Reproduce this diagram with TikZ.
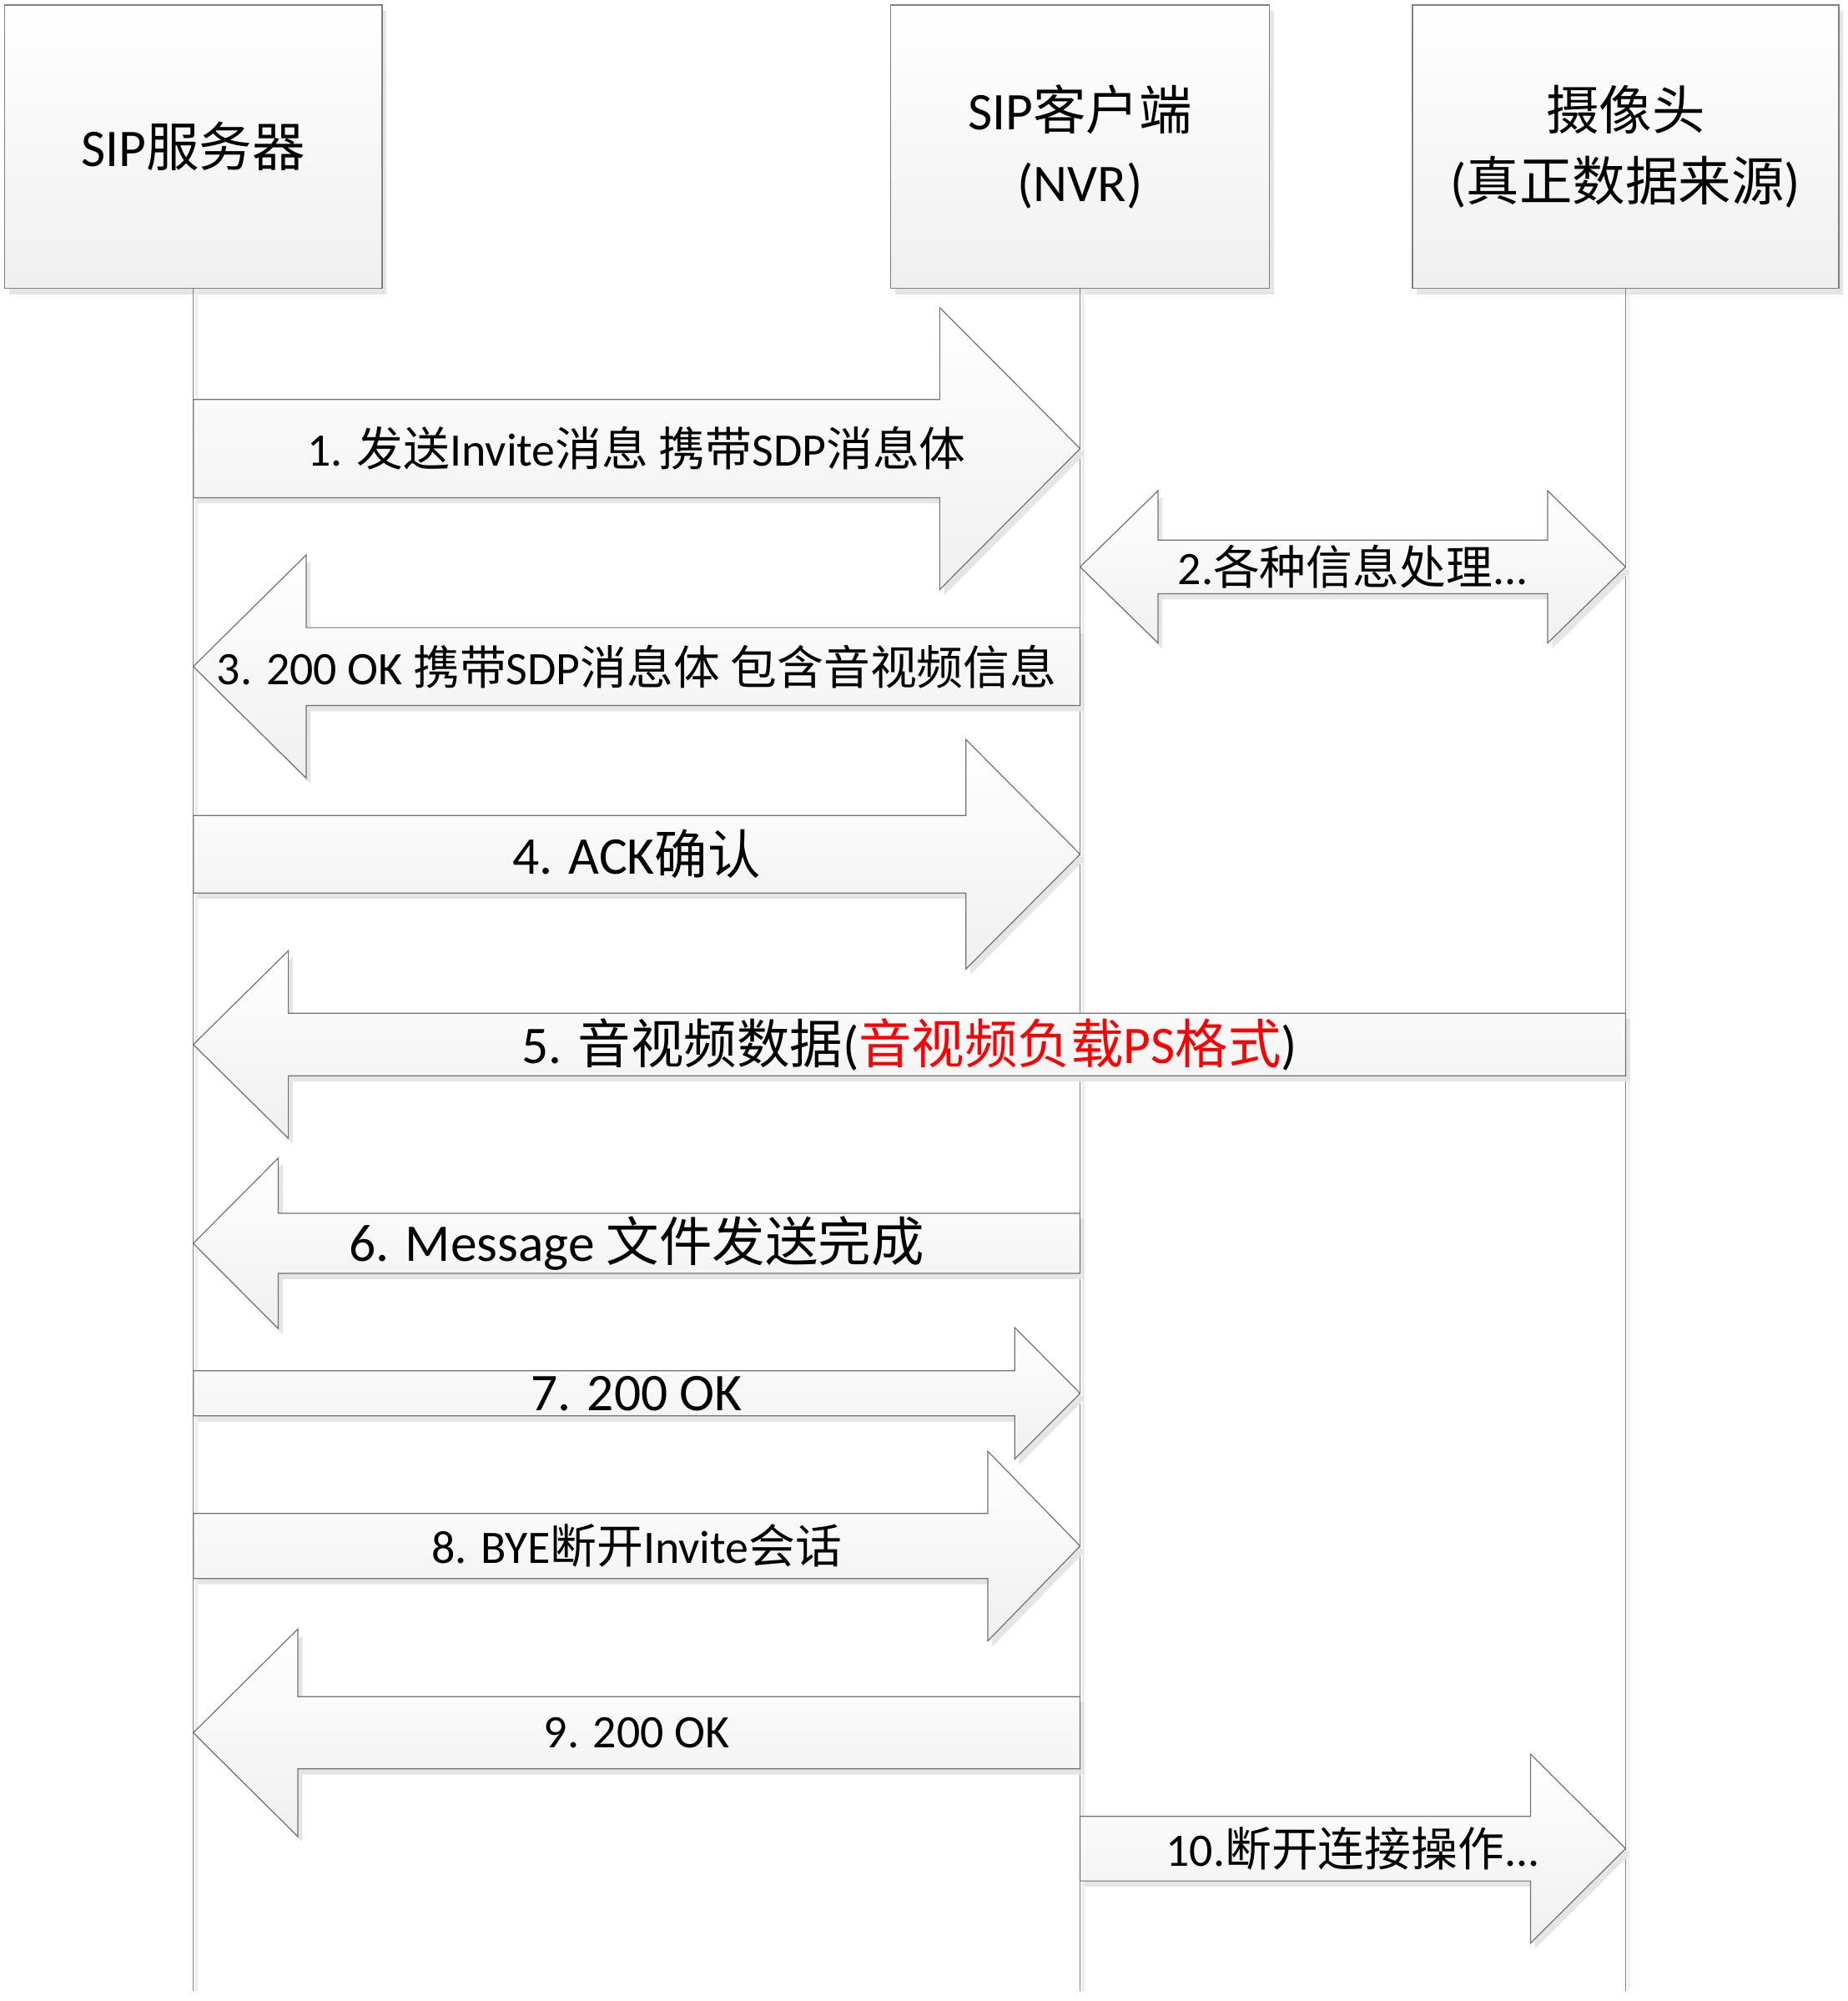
\documentclass[tikz,border=0pt]{standalone}
\usepackage{fontspec}
\setmainfont{Carlito}
\newfontfamily\cjkfont{Noto Sans CJK SC}
\newcommand\cn[1]{{\cjkfont #1}}
\usetikzlibrary{calc,shadows}

\begin{document}
\begin{tikzpicture}[
  x=0.5pt, y=-0.5pt,
  actor/.style={draw=black!50, line width=0.5pt, top color=white, bottom color=black!6,
    drop shadow={shadow xshift=1.75pt, shadow yshift=-2.25pt, fill=black!10, opacity=1},
    minimum height=111pt, inner sep=0pt, align=center,
    font=\fontsize{20.75}{28}\selectfont},
  lifeline/.style={draw=black!50, line width=0.4pt},
  lifeshadow/.style={draw=black!7, line width=0.8pt},
  msg/.style={draw=black!55, line width=0.4pt, top color=white, bottom color=black!6,
    drop shadow={shadow xshift=1.75pt, shadow yshift=-2.25pt, fill=black!10, opacity=1}}
]
\useasboundingbox (0,0) rectangle (1448,1568);

% participants
\node[actor, minimum width=148pt] (srv) at (151.5,115) {SIP\cn{服务器}};
\node[actor, minimum width=148.5pt] (nvr) at (846.5,115) {SIP\cn{客户端}\\(NVR)};
\node[actor, minimum width=167pt] (cam) at (1274,115) {\cn{摄像头}\\(\cn{真正数据来源})};

% lifelines
\coordinate (bottom) at (0,1560);
\foreach \a in {srv,nvr,cam} {
  \draw[lifeshadow] ($(\a.south)+(2.5,0)$) -- ($(\a.south |- bottom)+(2.5,0)$);
  \draw[lifeline] (\a.south) -- (\a.south |- bottom);
}

% 2: both ways between NVR and camera
\def\y{444.2}
\draw[msg] ($(nvr |- 0,\y)+(61,-21)$) -- ($(cam |- 0,\y)+(-61,-21)$)
  -- ($(cam |- 0,\y)+(-61,-59.6)$) -- (cam |- 0,\y) -- ($(cam |- 0,\y)+(-61,59.6)$)
  -- ($(cam |- 0,\y)+(-61,21)$) -- ($(nvr |- 0,\y)+(61,21)$)
  -- ($(nvr |- 0,\y)+(61,59.6)$) -- (nvr |- 0,\y) -- ($(nvr |- 0,\y)+(61,-59.6)$) -- cycle;
\node[font=\fontsize{18.25}{18.25}\selectfont] (m2) at ($(nvr |- 0,\y)!0.5!(cam |- 0,\y)$)
  {2.\cn{各种信息处理}...};

% tail/tip/y/shaft/head/head length/font size/label
\foreach \from/\to/\yc/\s/\h/\l/\fs/\lab [count=\i] in {
  srv/nvr/351.5/38.5/110.5/-110/18.25/{1. \cn{发送}Invite\cn{消息 携带}SDP\cn{消息体}},
  nvr/srv/522.3/30.5/87.5/88.5/18.25/{3. 200 OK \cn{携带}SDP\cn{消息体 包含音视频信息}},
  srv/nvr/669.4/30.4/89.9/-89.5/20.75/{4. ACK\cn{确认}},
  cam/srv/818.5/24.5/73.5/74.5/20.75/{5. \cn{音视频数据}(\textcolor{red}{\cn{音视频负载}PS\cn{格式}})},
  nvr/srv/974.3/23.5/66.8/66.5/20.75/{6. Message \cn{文件发送完成}},
  srv/nvr/1091.8/17.6/51.6/-51.3/20.75/{7. 200 OK},
  srv/nvr/1211.5/25.5/74.3/-72.3/18.25/{8. BYE\cn{断开}Invite\cn{会话}},
  nvr/srv/1357.8/28.3/81.4/82/18.25/{9. 200 OK},
  nvr/cam/1448.6/25.3/74.1/-74.5/18.25/{10.\cn{断开连接操作}...}} {
  \draw[msg] ($(\from |- 0,\yc)+(0,-\s)$) -- ($(\to |- 0,\yc)+(\l,-\s)$)
    -- ($(\to |- 0,\yc)+(\l,-\h)$) -- (\to |- 0,\yc) -- ($(\to |- 0,\yc)+(\l,\h)$)
    -- ($(\to |- 0,\yc)+(\l,\s)$) -- ($(\from |- 0,\yc)+(0,\s)$) -- cycle;
  \node[font=\fontsize{\fs}{\fs}\selectfont] (m\i) at ($(\from |- 0,\yc)!0.5!(\to |- 0,\yc)$) {\lab};
}
\end{tikzpicture}
\end{document}
